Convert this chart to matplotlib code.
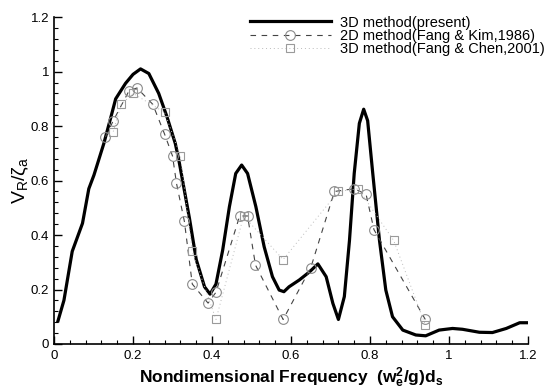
import matplotlib.pyplot as plt
from matplotlib.ticker import MultipleLocator

plt.rcParams['font.family'] = ['Liberation Sans', 'DejaVu Sans']
plt.rcParams['mathtext.fontset'] = 'custom'
plt.rcParams['mathtext.rm'] = 'Liberation Sans'
plt.rcParams['mathtext.it'] = 'Liberation Sans:italic'
plt.rcParams['mathtext.bf'] = 'Liberation Sans:bold'

# 3D method (present) - solid curve
freq_present = [0.01, 0.025, 0.046, 0.072, 0.088, 0.101, 0.126, 0.143, 0.156, 0.181,
                0.2, 0.219, 0.24, 0.265, 0.286, 0.307, 0.316, 0.343, 0.36, 0.381,
                0.395, 0.41, 0.427, 0.444, 0.46, 0.475, 0.49, 0.511, 0.532, 0.553,
                0.57, 0.582, 0.595, 0.621, 0.647, 0.668, 0.689, 0.706, 0.72, 0.735,
                0.748, 0.76, 0.773, 0.784, 0.794, 0.807, 0.824, 0.84, 0.857, 0.883,
                0.916, 0.941, 0.975, 1.009, 1.034, 1.077, 1.11, 1.145, 1.179, 1.2]
amp_present = [0.085, 0.16, 0.34, 0.443, 0.57, 0.62, 0.736, 0.828, 0.90, 0.957,
               0.99, 1.01, 0.993, 0.92, 0.834, 0.736, 0.675, 0.46, 0.31, 0.21,
               0.183, 0.22, 0.345, 0.504, 0.626, 0.657, 0.626, 0.504, 0.357, 0.247,
               0.198, 0.192, 0.21, 0.235, 0.265, 0.294, 0.247, 0.149, 0.09, 0.174,
               0.38, 0.626, 0.81, 0.862, 0.82, 0.626, 0.38, 0.198, 0.10, 0.051,
               0.033, 0.03, 0.051, 0.057, 0.054, 0.043, 0.042, 0.057, 0.078, 0.078]

# 2D method (Fang & Kim, 1986) - circles
freq_2d = [0.13, 0.15, 0.19, 0.21, 0.25, 0.28, 0.30, 0.31, 0.33, 0.35, 0.39, 0.41,
           0.47, 0.49, 0.51, 0.58, 0.65, 0.71, 0.76, 0.79, 0.81, 0.94]
amp_2d = [0.76, 0.82, 0.93, 0.94, 0.88, 0.77, 0.69, 0.59, 0.45, 0.22, 0.15, 0.19,
          0.47, 0.47, 0.29, 0.09, 0.28, 0.56, 0.57, 0.55, 0.42, 0.09]

# 3D method (Fang & Chen, 2001) - squares
freq_3d = [0.15, 0.17, 0.20, 0.28, 0.32, 0.35, 0.41, 0.48, 0.58, 0.72, 0.77, 0.86, 0.94]
amp_3d = [0.78, 0.88, 0.92, 0.85, 0.69, 0.34, 0.09, 0.47, 0.31, 0.56, 0.57, 0.38, 0.07]

x_ticks = [0, 0.2, 0.4, 0.6, 0.8, 1.0, 1.2]
x_labels = ['0', '0.2', '0.4', '0.6', '0.8', '1', '1.2']
y_ticks = [0, 0.2, 0.4, 0.6, 0.8, 1.0, 1.2]
y_labels = ['0', '0.2', '0.4', '0.6', '0.8', '1', '1.2']

fig = plt.figure(figsize=(5.46, 3.90), dpi=100)
ax = fig.add_axes([0.099, 0.118, 0.868, 0.838])

ax.plot(freq_present, amp_present, color='black', lw=2.3, label='3D method(present)')
ax.plot(freq_2d, amp_2d, color='#444444', lw=0.8, ls=(0, (5, 5)), marker='o', ms=7,
        mfc='none', mec='#8a8a8a', mew=0.8, label='2D method(Fang & Kim,1986)')
ax.plot(freq_3d, amp_3d, color='#bbbbbb', lw=0.7, ls=(0, (1, 3)), marker='s', ms=6,
        mfc='none', mec='#9a9a9a', mew=0.8, label='3D method(Fang & Chen,2001)')

ax.set_xlim(0, 1.2)
ax.set_ylim(0, 1.2)
ax.set_xticks(x_ticks)
ax.set_xticklabels(x_labels)
ax.set_yticks(y_ticks)
ax.set_yticklabels(y_labels)
ax.xaxis.set_minor_locator(MultipleLocator(0.04))
ax.yaxis.set_minor_locator(MultipleLocator(0.04))
ax.tick_params(which='both', direction='in', top=False, right=False, labelsize=9.5)
ax.tick_params(which='major', length=6, width=1)
ax.tick_params(which='minor', length=3, width=0.8)
ax.tick_params(axis='x', pad=4)

for side in ['top', 'right']:
    ax.spines[side].set_visible(False)
for side in ['left', 'bottom']:
    ax.spines[side].set_linewidth(1.2)

ax.set_xlabel(r'Nondimensional Frequency  $\mathbf{(w_e^2/g)d_s}$', fontsize=12.5,
              fontweight='bold', labelpad=3)
ax.set_ylabel(r'$\mathrm{V_R/\zeta_a}$', fontsize=14, labelpad=0)

ax.legend(loc='upper left', bbox_to_anchor=(0.385, 1.045), frameon=False, fontsize=10.5,
          handlelength=5.6, handletextpad=0.6, labelspacing=-0.05)

fig.savefig('out.png', dpi=100)
